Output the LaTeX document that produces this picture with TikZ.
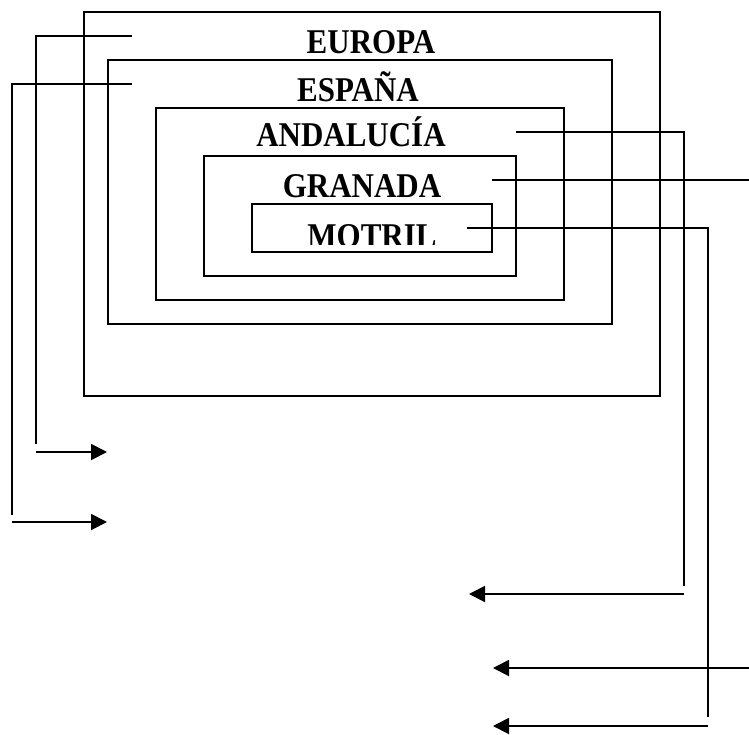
\documentclass[tikz,border=0pt]{standalone}
\usepackage{fontspec}
\setmainfont{Liberation Serif}
\usetikzlibrary{arrows.meta}
\newcommand{\tallword}[1]{\scalebox{1}[1.12]{#1}}

\begin{document}
\begin{tikzpicture}[x=1pt, y=-1pt, line width=1.9pt,
    frame/.style={draw, inner sep=0pt},
    place/.style={anchor=base, inner sep=0pt, font=\fontsize{31}{37}\selectfont\bfseries},
    tip/.style={-{Triangle[length=16pt, width=16pt]}}]
    \useasboundingbox (0,0) rectangle (749,734);
    % nested boxes
    \node[frame, minimum width=576pt, minimum height=384pt] (eu) at (372,204) {};
    \node[frame, minimum width=504pt, minimum height=264pt] (es) at (360,192) {};
    \node[frame, minimum width=408pt, minimum height=192pt] (an) at (360,204) {};
    \node[frame, minimum width=312pt, minimum height=120pt] (gr) at (360,216) {};
    \node[frame, minimum width=240pt, minimum height=48pt] (mo) at (372,228) {};
    \node[place] (eut) at (371,53) {\tallword{EUROPA}};
    \node[place] (est) at (358,101) {\tallword{ESPAÑA}};
    \node[place] (ant) at (351,146) {\tallword{ANDALUCÍA}};
    \node[place] (grt) at (362,197) {\tallword{GRANADA}};
    \begin{scope}
      \clip (252,204) rectangle (437,244);
      \node[place] (mot) at (372,247) {\tallword{MOTRIL}};
    \end{scope}
    % connector ends
    \coordinate (eu1) at (132,36);  \coordinate (eu2) at (36,36);   \coordinate (eu3) at (36,444);
    \coordinate (eu4) at (36,452);  \coordinate (eu5) at (107,452);
    \coordinate (es1) at (132,84);  \coordinate (es2) at (12,84);   \coordinate (es3) at (12,515);
    \coordinate (es4) at (12,522);  \coordinate (es5) at (107,522);
    \coordinate (an1) at (516,132); \coordinate (an2) at (684,132); \coordinate (an3) at (684,586);
    \coordinate (an4) at (684,594); \coordinate (an5) at (469,594);
    \coordinate (gr1) at (492,180); \coordinate (gr2) at (749,180);
    \coordinate (gr4) at (749,668); \coordinate (gr5) at (493,668);
    \coordinate (mo1) at (467,228); \coordinate (mo2) at (708,228); \coordinate (mo3) at (708,717);
    \coordinate (mo4) at (708,726); \coordinate (mo5) at (493,726);
    \draw (eu1) -- (eu2) -- (eu3);
    \draw[tip] (eu4) -- (eu5);
    \draw (es1) -- (es2) -- (es3);
    \draw[tip] (es4) -- (es5);
    \draw (an1) -- (an2) -- (an3);
    \draw[tip] (an4) -- (an5);
    \draw (gr1) -- (gr2);
    \draw[tip] (gr4) -- (gr5);
    \draw (mo1) -- (mo2) -- (mo3);
    \draw[tip] (mo4) -- (mo5);
\end{tikzpicture}
\end{document}
